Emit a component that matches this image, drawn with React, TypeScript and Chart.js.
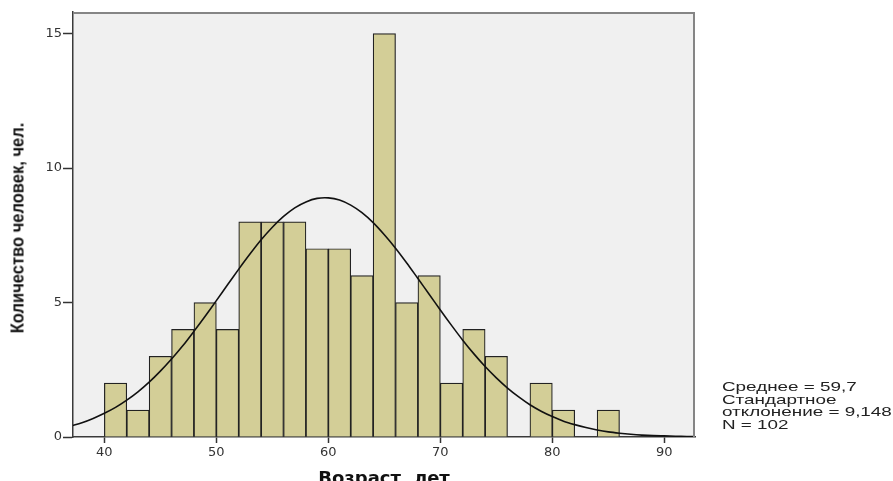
import { useEffect, useRef } from "react";
import { Chart, registerables } from "chart.js";

Chart.register(...registerables);

// Histogram bins (centers of 2-year bins) and counts
const binCenters = [41, 43, 45, 47, 49, 51, 53, 55, 57, 59, 61, 63, 65, 67, 69, 71, 73, 75, 79, 81, 85];
const binCounts = [2, 1, 3, 4, 5, 4, 8, 8, 8, 7, 7, 6, 15, 5, 6, 2, 4, 3, 2, 1, 1];

// Normal curve
const curveX = [37, 38, 39, 40, 41, 42, 43, 44, 45, 46, 47, 48, 49, 50, 51, 52, 53, 54, 55, 56, 57, 58, 59, 60, 61, 62, 63, 64, 65, 66, 67, 68, 69, 70, 71, 72, 73, 74, 75, 76, 77, 78, 79, 80, 81, 82, 83, 84, 85, 86, 87, 88, 89, 90, 91, 92, 93];
const curveY = [0.41, 0.53, 0.69, 0.88, 1.1, 1.37, 1.68, 2.04, 2.45, 2.9, 3.39, 3.93, 4.49, 5.07, 5.66, 6.24, 6.8, 7.33, 7.8, 8.2, 8.52, 8.74, 8.87, 8.89, 8.81, 8.62, 8.34, 7.97, 7.52, 7.02, 6.47, 5.89, 5.31, 4.72, 4.15, 3.6, 3.09, 2.62, 2.2, 1.82, 1.49, 1.2, 0.96, 0.76, 0.59, 0.46, 0.35, 0.26, 0.19, 0.14, 0.1, 0.07, 0.05, 0.04, 0.03, 0.02, 0.01];

const xTicks = [40, 50, 60, 70, 80, 90];
const yTicks = [0, 5, 10, 15];

const xTitle = "Возраст, лет";
const yTitle = "Количество человек, чел.";
const statsLines = ["Среднее = 59,7", "Стандартное", "отклонение = 9,148", "N = 102"];

const framePlugin = {
  id: "frame",
  beforeDraw(chart: any) {
    const { ctx, chartArea } = chart;
    const { left, top, right, bottom } = chartArea;
    ctx.save();
    ctx.fillStyle = "#f0f0f0";
    ctx.fillRect(left, top, right - left, bottom - top);
    ctx.restore();
  },
  afterDraw(chart: any) {
    const { ctx, chartArea } = chart;
    const { left, top, right, bottom } = chartArea;
    ctx.save();
    ctx.strokeStyle = "#858585";
    ctx.lineWidth = 2;
    ctx.beginPath();
    ctx.moveTo(left, top + 1);
    ctx.lineTo(right - 1, top + 1);
    ctx.lineTo(right - 1, bottom);
    ctx.stroke();
    ctx.restore();
  },
};

export default function App() {
  const ref = useRef<HTMLCanvasElement | null>(null);

  useEffect(() => {
    if (!ref.current) return;
    const chart = new Chart(ref.current, {
      type: "bar",
      data: {
        datasets: [
          {
            type: "line",
            label: "curve",
            data: curveX.map((x, i) => ({ x, y: curveY[i] })),
            borderColor: "#111111",
            borderWidth: 1.6,
            pointRadius: 0,
            tension: 0.3,
            fill: false,
            order: 0,
          } as any,
          {
            type: "bar",
            label: "count",
            data: binCenters.map((x, i) => ({ x, y: binCounts[i] })),
            backgroundColor: "#d3ce97",
            borderColor: "#222222",
            borderWidth: 1.2,
            barPercentage: 1,
            categoryPercentage: 1,
            order: 1,
          } as any,
        ],
      },
      options: {
        animation: false,
        responsive: false,
        devicePixelRatio: 1,
        layout: { padding: { top: 12, right: 198, left: 0, bottom: 0 } },
        plugins: {
          legend: { display: false },
          tooltip: { enabled: false },
        },
        scales: {
          x: {
            type: "linear",
            min: 37.2,
            max: 92.74,
            offset: false,
            afterBuildTicks: (s: any) => {
              s.ticks = xTicks.map((v) => ({ value: v }));
            },
            afterFit: (s: any) => {
              s.height = 44;
            },
            grid: {
              display: true,
              offset: false,
              drawOnChartArea: false,
              drawTicks: true,
              tickLength: 6,
              tickColor: "#333333",
              tickWidth: 1.5,
            },
            border: { display: true, color: "#3a3a3a", width: 1.5 },
            ticks: {
              font: { family: "'DejaVu Sans'", size: 13 },
              color: "#333333",
              padding: 2,
              maxRotation: 0,
              autoSkip: false,
            },
            title: {
              display: true,
              text: xTitle,
              font: { family: "'DejaVu Sans'", weight: "bold", size: 18 },
              color: "#111111",
              padding: { top: 0, bottom: -9 },
            },
          } as any,
          y: {
            type: "linear",
            min: 0,
            max: 15.8,
            afterBuildTicks: (s: any) => {
              s.ticks = yTicks.map((v) => ({ value: v }));
            },
            afterFit: (s: any) => {
              s.width = 73;
            },
            grid: {
              display: true,
              drawOnChartArea: false,
              drawTicks: true,
              tickLength: 10,
              tickColor: "#333333",
              tickWidth: 1.5,
            },
            border: { display: true, color: "#3a3a3a", width: 1.5 },
            ticks: {
              font: { family: "'DejaVu Sans'", size: 13 },
              color: "#333333",
              padding: 1,
              autoSkip: false,
            },
            title: { display: false },
          } as any,
        },
      },
      plugins: [framePlugin],
    });
    return () => chart.destroy();
  }, []);

  return (
    <div style={{ position: "fixed", left: 0, top: 0, width: 893, height: 481, background: "#ffffff", overflow: "hidden" }}>
      <canvas ref={ref} width={893} height={481} style={{ display: "block" }} />
      <div style={{ position: "absolute", left: 17, top: 228, width: 0, height: 0 }}>
        <div
          style={{
            position: "absolute",
            left: 0,
            top: 0,
            whiteSpace: "nowrap",
            fontFamily: "'Liberation Sans', Arial, sans-serif",
            fontWeight: "bold",
            fontSize: 19,
            lineHeight: 1,
            color: "#111111",
            transform: "translate(-50%, -50%) rotate(-90deg) scaleX(0.87)",
          }}
        >
          {yTitle}
        </div>
      </div>
      <div
        style={{
          position: "absolute",
          left: 722,
          top: 381,
          fontFamily: "'Liberation Sans', Arial, sans-serif",
          fontSize: 13,
          lineHeight: "12.7px",
          color: "#222222",
          whiteSpace: "pre",
          transform: "scaleX(1.45)",
          transformOrigin: "left top",
        }}
      >
        {statsLines.map((l, i) => (
          <div key={i}>{l}</div>
        ))}
      </div>
    </div>
  );
}
